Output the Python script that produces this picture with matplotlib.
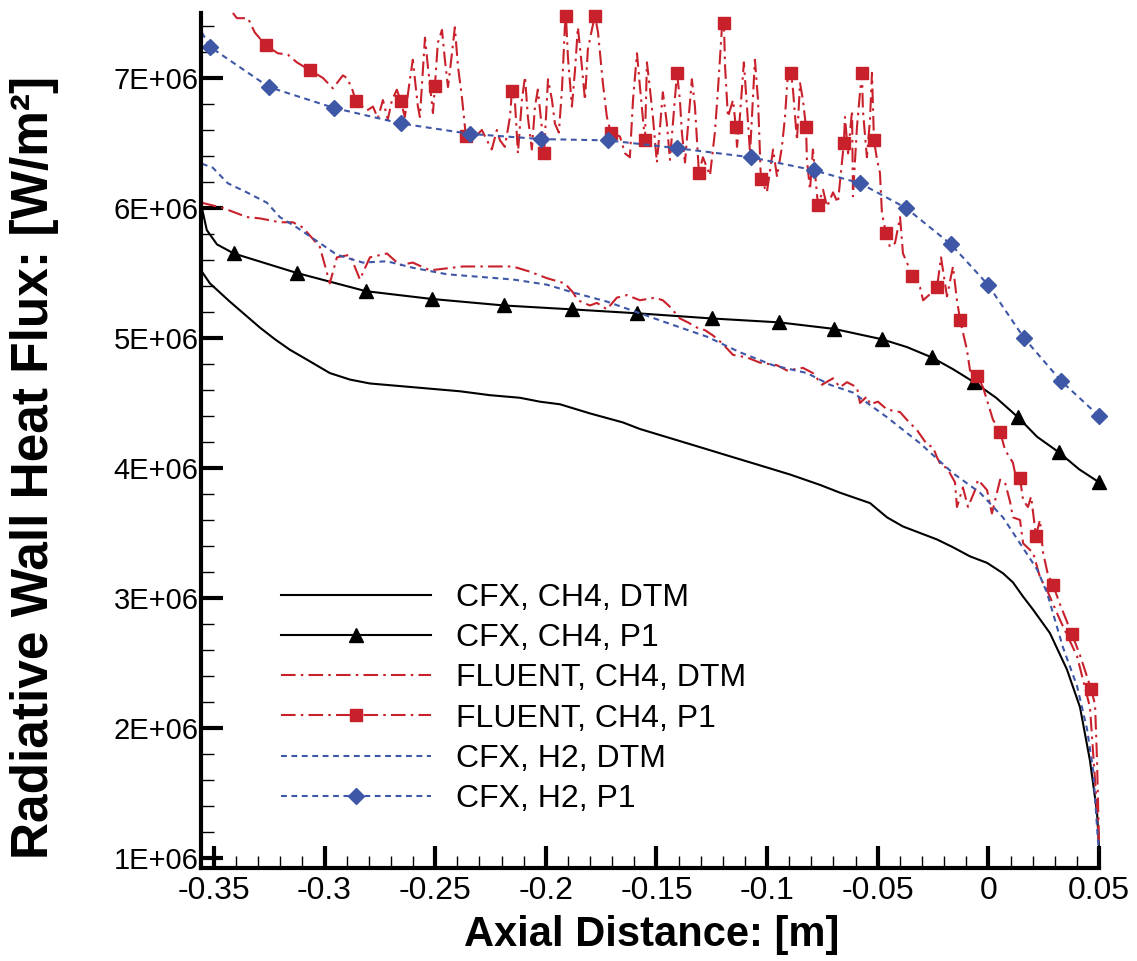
import numpy as np
import matplotlib
matplotlib.use("Agg")
import matplotlib.pyplot as plt
from matplotlib.ticker import MultipleLocator, FuncFormatter

plt.rcParams['font.family'] = ['Liberation Sans', 'DejaVu Sans']

# axial distance [m] and radiative wall heat flux [1E+06 W/m2]

# CFX, CH4, DTM
cfx_ch4_dtm_x = [-0.3554, -0.3518, -0.3473, -0.3428, -0.3360, -0.3292, -0.3224, -0.3157, -0.3066, -0.2976,
                 -0.2885, -0.2795, -0.2659, -0.2524, -0.2388, -0.2253, -0.2117, -0.2027, -0.1936, -0.1801,
                 -0.1651, -0.1575, -0.1439, -0.1303, -0.1168, -0.1032, -0.0897, -0.0761, -0.0671, -0.0535,
                 -0.0458, -0.0386, -0.0309, -0.0232, -0.0160, -0.0083, -0.0006, 0.0066, 0.0111, 0.0157,
                 0.0202, 0.0278, 0.0355, 0.0414, 0.0459, 0.0491, 0.0500]
cfx_ch4_dtm_q = [5.51, 5.42, 5.35, 5.28, 5.18, 5.08, 4.99, 4.91, 4.82, 4.73,
                 4.68, 4.65, 4.63, 4.61, 4.59, 4.56, 4.54, 4.51, 4.49, 4.42,
                 4.35, 4.30, 4.23, 4.16, 4.09, 4.02, 3.95, 3.87, 3.81, 3.73,
                 3.62, 3.55, 3.50, 3.45, 3.39, 3.32, 3.27, 3.19, 3.12, 3.01,
                 2.91, 2.73, 2.45, 2.16, 1.75, 1.35, 1.08]

# CFX, CH4, P1 (line points, then marker points)
cfx_ch4_p1_x = [-0.3554, -0.3532, -0.3486, -0.0368, -0.0160, 0.0035, 0.0220, 0.0410]
cfx_ch4_p1_q = [6.00, 5.83, 5.72, 4.93, 4.76, 4.54, 4.24, 3.99]
cfx_ch4_p1_mx = [-0.3410, -0.3125, -0.2813, -0.2515, -0.2189, -0.1882, -0.1588, -0.1249, -0.0946, -0.0698,
                 -0.0481, -0.0255, -0.0065, 0.0134, 0.0319, 0.0500]
cfx_ch4_p1_mq = [5.65, 5.50, 5.36, 5.30, 5.25, 5.22, 5.19, 5.15, 5.12, 5.07,
                 4.99, 4.85, 4.66, 4.39, 4.12, 3.89]

# FLUENT, CH4, DTM
fl_ch4_dtm_x = [-0.3554, -0.3459, -0.3351, -0.3292, -0.3202, -0.3143, -0.3098, -0.3021, -0.2976, -0.2944,
                -0.2885, -0.2840, -0.2795, -0.2718, -0.2659, -0.2601, -0.2524, -0.2375, -0.2221, -0.2149,
                -0.2072, -0.1995, -0.1914, -0.1877, -0.1855, -0.1801, -0.1769, -0.1724, -0.1679, -0.1633,
                -0.1575, -0.1507, -0.1471, -0.1439, -0.1394, -0.1358, -0.1317, -0.1281, -0.1245, -0.1204,
                -0.1154, -0.1091, -0.1032, -0.0955, -0.0910, -0.0838, -0.0793, -0.0752, -0.0702, -0.0671,
                -0.0639, -0.0594, -0.0580, -0.0549, -0.0535, -0.0499, -0.0458, -0.0399, -0.0368, -0.0322,
                -0.0277, -0.0250, -0.0232, -0.0214, -0.0187, -0.0151, -0.0142, -0.0115, -0.0092, -0.0060,
                -0.0047, -0.0006, 0.0016, 0.0053, 0.0075, 0.0098, 0.0111, 0.0143, 0.0157, 0.0188,
                0.0202, 0.0233, 0.0265, 0.0324, 0.0401, 0.0459, 0.0482, 0.0495, 0.0500]
fl_ch4_dtm_q = [6.04, 6.00, 5.93, 5.92, 5.89, 5.89, 5.85, 5.70, 5.42, 5.62,
                5.64, 5.45, 5.62, 5.65, 5.56, 5.58, 5.52, 5.55, 5.55, 5.55,
                5.51, 5.46, 5.42, 5.35, 5.29, 5.25, 5.27, 5.22, 5.31, 5.33,
                5.29, 5.31, 5.29, 5.24, 5.15, 5.12, 5.08, 5.06, 5.02, 4.96,
                4.87, 4.85, 4.81, 4.79, 4.75, 4.77, 4.73, 4.64, 4.69, 4.62,
                4.66, 4.62, 4.50, 4.55, 4.49, 4.51, 4.45, 4.43, 4.37, 4.29,
                4.18, 4.16, 4.08, 4.02, 4.00, 3.89, 3.70, 3.85, 3.70, 3.83,
                3.91, 3.83, 3.65, 3.91, 3.89, 3.74, 3.62, 3.60, 3.42, 3.37,
                3.35, 3.16, 3.06, 2.83, 2.55, 2.16, 1.60, 1.27, 1.10]

# FLUENT, CH4, P1 (line points, then marker points)
fl_ch4_p1_x = [-0.3414, -0.3396, -0.3346, -0.3315, -0.3211, -0.3166, -0.3125, -0.3007, -0.2962, -0.2917,
               -0.2899, -0.2876, -0.2808, -0.2781, -0.2759, -0.2736, -0.2714, -0.2695, -0.2673, -0.2637,
               -0.2614, -0.2601, -0.2578, -0.2569, -0.2546, -0.2533, -0.2510, -0.2488, -0.2469, -0.2456,
               -0.2442, -0.2424, -0.2411, -0.2397, -0.2379, -0.2334, -0.2289, -0.2266, -0.2244, -0.2221,
               -0.2207, -0.2185, -0.2162, -0.2140, -0.2126, -0.2108, -0.2094, -0.2081, -0.2063, -0.2049,
               -0.2036, -0.2018, -0.1990, -0.1972, -0.1959, -0.1941, -0.1927, -0.1914, -0.1900, -0.1882,
               -0.1868, -0.1855, -0.1837, -0.1823, -0.1810, -0.1792, -0.1764, -0.1742, -0.1724, -0.1665,
               -0.1642, -0.1620, -0.1606, -0.1588, -0.1575, -0.1543, -0.1529, -0.1516, -0.1498, -0.1484,
               -0.1471, -0.1453, -0.1439, -0.1394, -0.1385, -0.1371, -0.1358, -0.1340, -0.1326, -0.1290,
               -0.1258, -0.1236, -0.1222, -0.1204, -0.1190, -0.1177, -0.1154, -0.1136, -0.1123, -0.1105,
               -0.1091, -0.1077, -0.1055, -0.1041, -0.1001, -0.0973, -0.0955, -0.0933, -0.0919, -0.0906,
               -0.0883, -0.0865, -0.0851, -0.0838, -0.0820, -0.0806, -0.0793, -0.0747, -0.0729, -0.0702,
               -0.0680, -0.0662, -0.0648, -0.0634, -0.0616, -0.0612, -0.0594, -0.0580, -0.0567, -0.0549,
               -0.0535, -0.0526, -0.0503, -0.0490, -0.0481, -0.0445, -0.0422, -0.0399, -0.0386, -0.0368,
               -0.0309, -0.0295, -0.0255, -0.0214, -0.0187, -0.0160, -0.0142, -0.0097, -0.0083, -0.0024,
               0.0021, 0.0075, 0.0111, 0.0129, 0.0157, 0.0179, 0.0193, 0.0206, 0.0233, 0.0247,
               0.0269, 0.0324, 0.0414, 0.0482, 0.0491, 0.0500]
fl_ch4_p1_q = [7.50, 7.46, 7.46, 7.35, 7.19, 7.18, 7.12, 7.00, 6.92, 7.02,
               7.00, 6.92, 6.75, 6.78, 6.69, 6.83, 6.68, 6.83, 6.91, 6.70,
               6.99, 7.14, 6.78, 6.70, 7.31, 7.09, 6.73, 7.27, 7.37, 7.14,
               6.93, 7.19, 7.39, 7.09, 6.85, 6.52, 6.60, 6.52, 6.45, 6.60,
               6.52, 6.47, 6.70, 6.83, 6.42, 6.83, 7.01, 6.70, 6.45, 6.78,
               6.91, 6.62, 6.99, 6.83, 6.65, 6.58, 6.91, 7.39, 7.16, 6.78,
               7.06, 7.39, 7.09, 6.83, 7.22, 7.37, 7.35, 6.96, 6.70, 6.55,
               6.42, 6.39, 6.83, 7.19, 6.94, 7.12, 6.91, 6.70, 6.35, 6.62,
               6.89, 6.65, 6.37, 6.83, 6.58, 6.35, 6.62, 6.99, 6.78, 6.39,
               6.25, 6.58, 6.91, 7.39, 7.09, 6.70, 6.83, 6.47, 6.70, 7.12,
               6.78, 6.42, 7.14, 6.83, 6.12, 6.45, 6.24, 6.47, 6.70, 7.04,
               6.91, 6.52, 6.96, 6.83, 6.37, 6.14, 6.45, 6.14, 6.01, 6.12,
               6.04, 6.35, 6.70, 6.42, 6.75, 6.09, 6.62, 6.89, 6.75, 6.39,
               6.68, 7.04, 6.37, 6.27, 5.96, 5.70, 5.73, 5.93, 5.65, 5.58,
               5.39, 5.29, 5.35, 5.62, 5.32, 5.55, 5.29, 4.91, 4.75, 4.62,
               4.37, 4.14, 4.04, 3.89, 3.75, 3.70, 3.78, 3.60, 3.60, 3.35,
               3.18, 2.95, 2.56, 2.18, 1.75, 1.10]
fl_ch4_p1_mx = [-0.3265, -0.3066, -0.2858, -0.2655, -0.2501, -0.2361, -0.2153, -0.2008, -0.1909, -0.1778,
                -0.1706, -0.1552, -0.1407, -0.1308, -0.1195, -0.1141, -0.1028, -0.0892, -0.0824, -0.0770,
                -0.0653, -0.0571, -0.0517, -0.0463, -0.0345, -0.0232, -0.0128, -0.0051, 0.0053, 0.0143,
                0.0215, 0.0292, 0.0378, 0.0464]
fl_ch4_p1_mq = [7.25, 7.06, 6.82, 6.82, 6.94, 6.55, 6.90, 6.42, 7.48, 7.48,
                6.58, 6.52, 7.04, 6.27, 7.42, 6.62, 6.22, 7.04, 6.62, 6.02,
                6.50, 7.04, 6.52, 5.81, 5.48, 5.39, 5.14, 4.71, 4.28, 3.92,
                3.48, 3.10, 2.72, 2.30]

# CFX, H2, DTM
cfx_h2_dtm_x = [-0.3554, -0.3505, -0.3437, -0.3351, -0.3260, -0.3202, -0.3125, -0.3021, -0.2944, -0.2827,
                -0.2718, -0.2601, -0.2447, -0.2298, -0.2149, -0.1995, -0.1877, -0.1724, -0.1575, -0.1425,
                -0.1272, -0.1123, -0.0973, -0.0820, -0.0716, -0.0612, -0.0458, -0.0309, -0.0160, -0.0038,
                0.0066, 0.0143, 0.0220, 0.0265, 0.0337, 0.0401, 0.0446, 0.0473, 0.0495, 0.0500]
cfx_h2_dtm_q = [6.34, 6.31, 6.19, 6.12, 6.04, 5.93, 5.85, 5.73, 5.64, 5.58,
                5.59, 5.54, 5.49, 5.47, 5.45, 5.41, 5.35, 5.28, 5.19, 5.10,
                5.01, 4.89, 4.79, 4.73, 4.64, 4.58, 4.39, 4.19, 3.96, 3.81,
                3.62, 3.42, 3.22, 3.04, 2.62, 2.32, 1.99, 1.68, 1.14, 1.06]

# CFX, H2, P1 (line points, then marker points)
cfx_h2_p1_x = [-0.3554]
cfx_h2_p1_q = [7.35]
cfx_h2_p1_mx = [-0.3518, -0.3251, -0.2958, -0.2655, -0.2343, -0.2022, -0.1719, -0.1407, -0.1073, -0.0788,
                -0.0580, -0.0372, -0.0169, -0.0002, 0.0161, 0.0328, 0.0500]
cfx_h2_p1_mq = [7.24, 6.93, 6.77, 6.65, 6.57, 6.53, 6.52, 6.46, 6.39, 6.29,
                6.19, 6.00, 5.72, 5.41, 5.00, 4.67, 4.40]

RED = '#C9212B'
BLUE = '#3F57A7'


def with_markers(x, q, mx, mq):
    # merge line points and marker points, return mask of marker positions
    xs = np.concatenate([x, mx])
    qs = np.concatenate([q, mq]) * 1e6
    flag = np.concatenate([np.zeros(len(x), bool), np.ones(len(mx), bool)])
    order = np.argsort(xs, kind='stable')
    return xs[order], qs[order], list(flag[order])


fig = plt.figure(figsize=(11.37, 9.61), dpi=100)
ax = fig.add_axes([0.1772, 0.0968, 0.7894, 0.8897])

ax.plot(cfx_ch4_dtm_x, np.array(cfx_ch4_dtm_q) * 1e6, color='black', lw=1.5,
        label='CFX, CH4, DTM', clip_on=False)

x, q, m = with_markers(cfx_ch4_p1_x, cfx_ch4_p1_q, cfx_ch4_p1_mx, cfx_ch4_p1_mq)
ax.plot(x, q, color='black', lw=1.5, marker='^', markersize=10, markevery=m,
        label='CFX, CH4, P1', clip_on=False)

ax.plot(fl_ch4_dtm_x, np.array(fl_ch4_dtm_q) * 1e6, color=RED, lw=1.5,
        dashes=(7, 2.5, 1.2, 2.5), label='FLUENT, CH4, DTM', clip_on=False)

x, q, m = with_markers(fl_ch4_p1_x, fl_ch4_p1_q, fl_ch4_p1_mx, fl_ch4_p1_mq)
ax.plot(x, q, color=RED, lw=1.5, dashes=(7, 2.5, 1.2, 2.5), marker='s', markersize=9,
        markevery=m, label='FLUENT, CH4, P1', clip_on=False)

ax.plot(cfx_h2_dtm_x, np.array(cfx_h2_dtm_q) * 1e6, color=BLUE, lw=1.5,
        dashes=(2.8, 2.2), label='CFX, H2, DTM', clip_on=False)

x, q, m = with_markers(cfx_h2_p1_x, cfx_h2_p1_q, cfx_h2_p1_mx, cfx_h2_p1_mq)
ax.plot(x, q, color=BLUE, lw=1.5, dashes=(2.8, 2.2), marker='D', markersize=8,
        markevery=m, label='CFX, H2, P1', clip_on=False)

ax.set_xlim(-0.3556, 0.05)
ax.set_ylim(0.923e6, 7.5e6)

ax.xaxis.set_major_locator(MultipleLocator(0.05))
ax.xaxis.set_minor_locator(MultipleLocator(0.01))
ax.yaxis.set_major_locator(MultipleLocator(1e6))
ax.yaxis.set_minor_locator(MultipleLocator(0.2e6))


def xfmt(v, pos):
    s = '%g' % round(v, 3)
    return '0' if s == '-0' else s


ax.xaxis.set_major_formatter(FuncFormatter(xfmt))
ax.yaxis.set_major_formatter(FuncFormatter(lambda v, pos: '%.0fE+06' % (v / 1e6)))

for side in ['top', 'right']:
    ax.spines[side].set_visible(False)
for side in ['left', 'bottom']:
    ax.spines[side].set_linewidth(3)

ax.tick_params(which='major', direction='in', length=16, width=3)
ax.tick_params(axis='x', which='major', pad=6, labelsize=23)
ax.tick_params(axis='y', which='major', pad=2, labelsize=21)
ax.tick_params(which='minor', direction='in', length=9, width=1)

ax.set_xlabel('Axial Distance: [m]', fontsize=30, fontweight='bold')
ax.set_ylabel('Radiative Wall Heat Flux: [W/m²]', fontsize=37, fontweight='bold')
ax.xaxis.set_label_coords(0.502, -0.055)
ax.yaxis.set_label_coords(-0.159, 0.469)

ax.legend(loc='upper left', bbox_to_anchor=(281 / 1137, 1 - 583 / 961),
          bbox_transform=fig.transFigure, frameon=False, fontsize=23,
          handlelength=4.7, handletextpad=0.78, labelspacing=0.32,
          borderpad=0, borderaxespad=0, numpoints=1)

fig.savefig('out.png', dpi=100)
